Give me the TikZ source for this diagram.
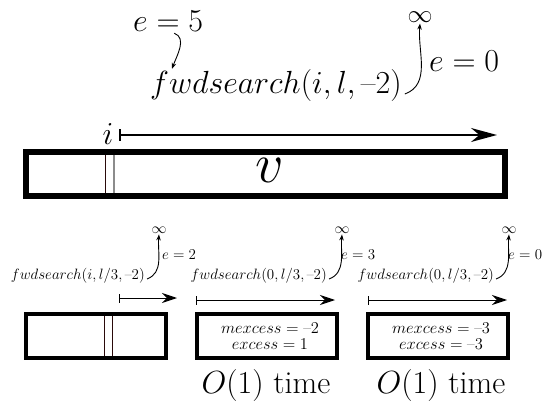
\documentclass[tikz,border=0pt]{standalone}
\usepackage{fix-cm}
\usetikzlibrary{arrows.meta, positioning, calc}
\definecolor{BarDark}{HTML}{2A0A0A}
\definecolor{BarGray}{HTML}{8C8C8C}
\newcommand{\mneg}{\mbox{\textendash}}

\begin{document}
\begin{tikzpicture}[
        x=1pt, y=1pt,
        big/.style={font=\fontsize{32}{38}\selectfont, inner sep=1pt},
        small/.style={font=\fontsize{15}{16}\selectfont, inner sep=1pt},
        inbox/.style={font=\fontsize{16.5}{16}\selectfont, inner sep=1pt, align=center},
        huge/.style={font=\fontsize{56}{60}\selectfont, inner sep=0pt},
        arrbox/.style={draw, line width=6pt, outer sep=0pt, inner sep=0pt,
                       minimum width=479pt, minimum height=44pt},
        subbox/.style={draw, line width=3.5pt, outer sep=0pt, inner sep=0pt,
                       minimum width=140pt, minimum height=44pt},
        scanbig/.style={{Bar[width=12pt]}-{Stealth[length=26pt,width=14pt]}, line width=1.6pt},
        scan/.style={{Bar[width=9pt]}-{Stealth[length=15pt,width=10pt]}, line width=1pt},
        hook/.style={-{Stealth[length=6pt,width=4.5pt]}, line width=0.9pt},
      ]
        \useasboundingbox (0,0) rectangle (548,-403);
        % call on the whole array
        \node[big, anchor=base west] (e5) at (132,-32) {$e=5$};
        \node[big, anchor=base west] (fws) at (149,-94) {$fwdsearch(i,l,\mneg2)$};
        \node[big, font=\fontsize{25}{28}\selectfont] (inf) at (420,-17) {$\infty$};
        \node[big, anchor=base west] (e0) at (428,-72) {$e=0$};
        \draw[hook] ([xshift=6pt]e5.south) to[out=-20,in=70] ([xshift=23pt]fws.north west);
        \draw[hook] ([xshift=2pt]fws.base east) to[out=20,in=-95] (inf.south);
        % the array v
        \node[big, anchor=base] (i) at (108,-145) {$i$};
        \coordinate (scanS) at (119,-135);
        \coordinate (scanE) at (497,-135);
        \draw[scanbig] (scanS) -- (scanE);
        \node[arrbox] (v) at (265.5,-174) {};
        \draw[BarDark, line width=1pt] ([xshift=79.7pt,yshift=-3pt]v.north west) -- ([xshift=79.7pt,yshift=3pt]v.south west);
        \draw[BarGray, line width=2pt] ([xshift=88pt,yshift=-3pt]v.north west) -- ([xshift=88pt,yshift=3pt]v.south west);
        \node[huge] (vlab) at ([xshift=4pt,yshift=4pt]v.center) {$v$};
        % three blocks
        \node[subbox] (b1) at (96,-336) {};
        \node[subbox] (b2) at (267,-336) {};
        \node[subbox] (b3) at (438,-336) {};
        \draw[BarDark, line width=0.8pt] ([xshift=78pt,yshift=-1.75pt]b1.north west) -- ([xshift=78pt,yshift=1.75pt]b1.south west);
        \draw[BarDark, line width=0.8pt] ([xshift=86pt,yshift=-1.75pt]b1.north west) -- ([xshift=86pt,yshift=1.75pt]b1.south west);
        % block 1
        \node[small, anchor=base east] (f1) at (146,-279) {$fwdsearch(i,l/3,\mneg2)$};
        \node[small] (inf1) at (159,-230) {$\infty$};
        \node[small, anchor=base west] (e2) at (161,-259) {$e=2$};
        \draw[hook] ([xshift=1pt]f1.base east) to[out=20,in=-95] (inf1.south);
        \coordinate (s1) at (119,-298);
        \coordinate (t1) at (177,-298);
        \draw[scan] (s1) -- (t1);
        % block 2
        \node[small, anchor=base east] (f2) at (328,-279) {$fwdsearch(0,l/3,\mneg2)$};
        \node[small] (inf2) at (342,-230) {$\infty$};
        \node[small, anchor=base west] (e3) at (340,-259) {$e=3$};
        \draw[hook] ([xshift=1pt]f2.base east) to[out=20,in=-95] (inf2.south);
        \coordinate (s2) at (196,-300);
        \coordinate (t2) at (335,-300);
        \draw[scan] (s2) -- (t2);
        \node[inbox] (x2) at ([xshift=3pt]b2.center) {$mexcess=\mneg2$\\$excess=1$};
        % block 3
        \node[small, anchor=base east] (f3) at (495,-279) {$fwdsearch(0,l/3,\mneg2)$};
        \node[small] (inf3) at (509,-230) {$\infty$};
        \node[small, anchor=base west] (e0b) at (507,-259) {$e=0$};
        \draw[hook] ([xshift=1pt]f3.base east) to[out=20,in=-95] (inf3.south);
        \coordinate (s3) at (368,-300);
        \coordinate (t3) at (507,-300);
        \draw[scan] (s3) -- (t3);
        \node[inbox] (x3) at ([xshift=3pt]b3.center) {$mexcess=\mneg3$\\$excess=\mneg3$};
        % costs
        \node[big, anchor=base] (c2) at (266,-393) {$O(1)$ time};
        \node[big, anchor=base] (c3) at (441,-393) {$O(1)$ time};
      \end{tikzpicture}
\end{document}
